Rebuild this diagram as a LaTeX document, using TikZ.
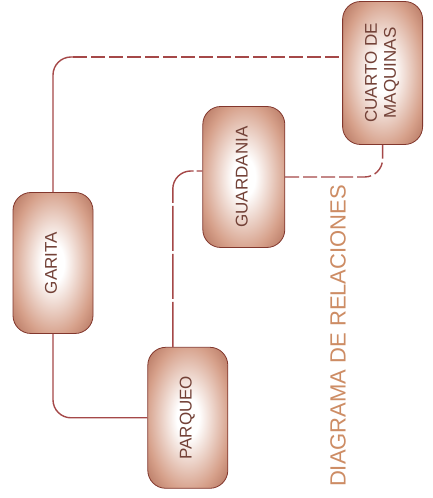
\documentclass[tikz,border=0pt]{standalone}
\usepackage{fontspec}
\setmainfont{Liberation Sans}
\usepackage{graphicx}
\usetikzlibrary{positioning, calc}
\definecolor{boxedge}{RGB}{145,72,52}
\definecolor{boxmid}{RGB}{214,160,138}
\definecolor{boxline}{RGB}{130,55,45}
\definecolor{boxtext}{RGB}{115,65,55}
\definecolor{linkred}{RGB}{165,72,72}
\definecolor{titlebrown}{RGB}{205,140,100}
\pgfdeclareradialshading{boxshade}{\pgfpoint{0bp}{0bp}}{%
  color(0bp)=(white); color(7bp)=(white); color(26bp)=(boxmid);
  color(44bp)=(boxedge); color(75bp)=(boxedge)}
\newcommand{\vtext}[1]{\rotatebox{90}{\begin{tabular}{@{}c@{}}#1\end{tabular}}}
\tikzset{
  box/.style={
    rectangle, rounded corners=18pt, minimum width=80pt,
    minimum height=141pt, inner sep=0pt, shade, shading=boxshade,
    draw=boxline, line width=0.8pt, text=boxtext,
    font=\fontsize{17}{19}\selectfont
  },
  link/.style={draw=linkred, line width=1.4pt, rounded corners=18pt},
  dlink/.style={link, dash pattern=on 14pt off 4pt},
  ttl/.style={font=\fontsize{22}{24}\selectfont, text=titlebrown, rotate=90}
}

\begin{document}
\begin{tikzpicture}[x=1pt, y=1pt]
  \useasboundingbox[fill=white] (0,0) rectangle (433,498);

  \node[box] (garita) at (53,235) {\vtext{GARITA}};
  \node[box, below right=13pt and 54pt of garita] (parqueo) {\vtext{PARQUEO}};
  \node[box, above=99pt of parqueo, xshift=56pt, minimum width=82pt] (guardania)
        {\vtext{GUARDANIA}};
  \node[box, right=57pt of guardania, yshift=104pt, minimum height=143pt] (cuarto)
        {\vtext{CUARTO DE\\MAQUINAS}};
  \node[ttl] (title) at (338,162) {DIAGRAMA DE RELACIONES};

  \coordinate (bend) at ($(garita.north |- cuarto.west)+(20,16)$);
  \draw[link] (garita.north) |- (bend);
  \draw[dlink] (bend) -- ($(cuarto.west)+(0,16)$);
  \draw[link] (garita.south) |- (parqueo.west);
  \draw[link, dash pattern=on 45pt off 3pt] ($(parqueo.north)+(-15,0)$)
        |- ($(guardania.west)+(0,6)$);
  \draw[dlink] (guardania.east) -| (cuarto.south);
\end{tikzpicture}
\end{document}
